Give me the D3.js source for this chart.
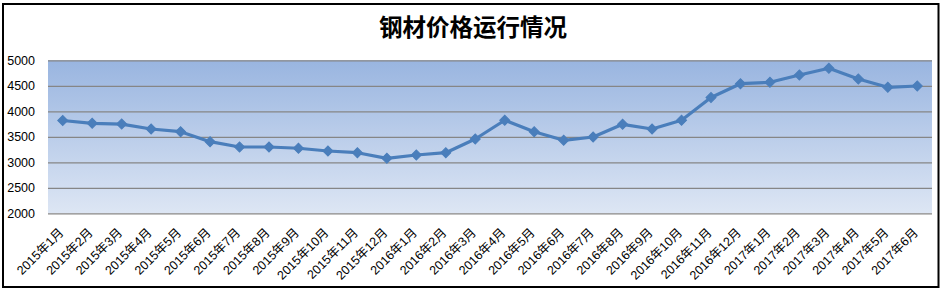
<!DOCTYPE html>
<html><head><meta charset="utf-8">
<script src="https://cdn.jsdelivr.net/npm/d3@7"></script>
<style>
html,body{margin:0;padding:0;background:#fff;}
svg{display:block;}
</style></head>
<body>
<svg id="chart" width="944" height="291"></svg>
<script>
const title = "钢材价格运行情况";
const categories = ["2015年1月","2015年2月","2015年3月","2015年4月","2015年5月","2015年6月","2015年7月","2015年8月","2015年9月","2015年10月","2015年11月","2015年12月","2016年1月","2016年2月","2016年3月","2016年4月","2016年5月","2016年6月","2016年7月","2016年8月","2016年9月","2016年10月","2016年11月","2016年12月","2017年1月","2017年2月","2017年3月","2017年4月","2017年5月","2017年6月"];
const prices = [3820,3765,3750,3653,3600,3404,3300,3300,3275,3222,3188,3078,3143,3188,3457,3825,3600,3431,3496,3745,3653,3824,4270,4541,4569,4712,4843,4633,4471,4496];
const yTicks = [2000,2500,3000,3500,4000,4500,5000];

const svg = d3.select("#chart");
const plot = {left:48, right:932, top:60.3, bottom:213.3};

// outer border
svg.append("rect").attr("x",3).attr("y",4).attr("width",935.5).attr("height",283)
  .attr("fill","#fff").attr("stroke","#000").attr("stroke-width",2);

// gradient
const defs = svg.append("defs");
const grad = defs.append("linearGradient").attr("id","bg").attr("x1",0).attr("y1",0).attr("x2",0).attr("y2",1);
grad.append("stop").attr("offset","0%").attr("stop-color","#99b5e0");
grad.append("stop").attr("offset","100%").attr("stop-color","#dde6f4");

const x = d3.scaleBand().domain(categories).range([plot.left, plot.right]).padding(0);
const y = d3.scaleLinear().domain([2000,5000]).range([plot.bottom, plot.top]);

svg.append("rect").attr("x",plot.left).attr("y",plot.top)
  .attr("width",plot.right-plot.left).attr("height",plot.bottom-plot.top)
  .attr("fill","url(#bg)");

// gridlines
const yAxis = d3.axisLeft(y).tickValues(yTicks).tickSize(-(plot.right-plot.left)).tickPadding(12).tickFormat(d3.format("d"));
const gy = svg.append("g").attr("transform",`translate(${plot.left},0)`).call(yAxis);
gy.select(".domain").remove();
gy.selectAll(".tick line").attr("stroke","#868686").attr("stroke-width",1.2);
gy.selectAll(".tick text").attr("font-family","'Liberation Sans', Arial, sans-serif")
  .attr("font-size",12.5).attr("fill","#000").attr("x",-13);

// x axis labels
const xAxis = d3.axisBottom(x).tickSize(0).tickPadding(0);
const gx = svg.append("g").attr("transform",`translate(0,${plot.bottom})`).call(xAxis);
gx.select(".domain").remove();
gx.selectAll(".tick text")
  .attr("font-family","'Liberation Sans', 'Noto Sans CJK SC', sans-serif")
  .attr("font-size",12.5).attr("fill","#000")
  .attr("text-anchor","end").attr("dy",0).attr("y",0)
  .attr("transform","translate(1.5,20) rotate(-45)");

// line
const line = d3.line().x((d,i)=>x(categories[i])+x.bandwidth()/2).y(d=>y(d));
svg.append("path").datum(prices).attr("d",line)
  .attr("fill","none").attr("stroke","#4a7ebb").attr("stroke-width",3.2)
  .attr("stroke-linejoin","round");

// markers (rotated squares = diamonds)
const sq = d3.symbol().type(d3.symbolSquare).size(50);
svg.append("g").selectAll("path").data(prices).join("path")
  .attr("d",sq)
  .attr("transform",(d,i)=>`translate(${x(categories[i])+x.bandwidth()/2},${y(d)}) rotate(45)`)
  .attr("fill","#4a7ebb").attr("stroke","#4a7ebb").attr("stroke-width",1);

// title
svg.append("text").attr("x",473).attr("y",36).attr("text-anchor","middle")
  .attr("font-family","'Noto Sans CJK SC', sans-serif").attr("font-weight","bold")
  .attr("font-size",23.5).attr("fill","#000").text(title);
</script>
</body></html>
